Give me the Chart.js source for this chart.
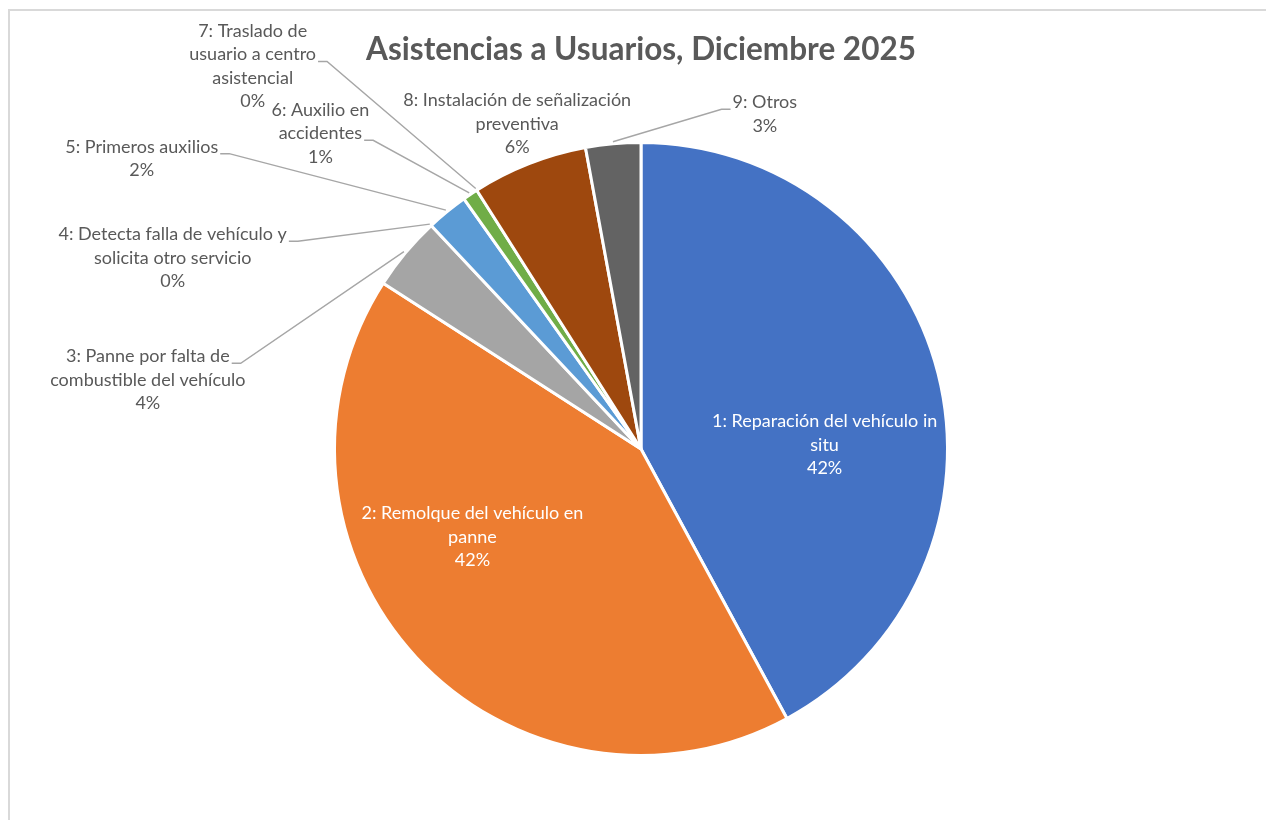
<!DOCTYPE html>
<html>
<head>
<meta charset="utf-8">
<title>Asistencias a Usuarios</title>
<script src="https://cdn.jsdelivr.net/npm/chart.js@4.4.1/dist/chart.umd.min.js"></script>
<style>
  html, body { margin: 0; padding: 0; background: #fff; overflow: hidden; }
  #wrap { position: relative; width: 1266px; height: 820px; }
  #frame { position: absolute; left: 8px; top: 9px; width: 1300px; height: 900px;
           border: 2px solid #d9d9d9; box-sizing: border-box; }
  #pieChart { position: absolute; left: 0; top: 0; }
</style>
</head>
<body>
<div id="wrap">
  <div id="frame"></div>
  <canvas id="pieChart" width="1266" height="820"></canvas>
</div>
<script>
// datos (% del total)
const categories = [
  "1: Reparación del vehículo in\nsitu",
  "2: Remolque del vehículo en\npanne",
  "3: Panne por falta de\ncombustible del vehículo",
  "4: Detecta falla de vehículo y\nsolicita otro servicio",
  "5: Primeros auxilios",
  "6: Auxilio en\naccidentes",
  "7: Traslado de\nusuario a centro\nasistencial",
  "8: Instalación de señalización\npreventiva",
  "9: Otros"
];
const values = [42.1, 42.0, 3.9, 0, 2.2, 0.8, 0, 6.1, 2.9];
const colors = ["#4472C4", "#ED7D31", "#A5A5A5", "#FFC000", "#5B9BD5", "#70AD47", "#264478", "#9E480E", "#636363"];

// posicion de las etiquetas (en radios desde el centro) y linea guia
const labelLayout = [
  { x: 0.599, y: -0.014, color: "#fff" },
  { x: -0.550, y: 0.287, color: "#fff" },
  { x: -1.609, y: -0.226, lead: { line: 0, side: "right" } },
  { x: -1.528, y: -0.624, lead: { line: 0, side: "right" } },
  { x: -1.629, y: -0.948, lead: { line: 0, side: "right" } },
  { x: -1.046, y: -1.030, lead: { line: 1, side: "right" } },
  { x: -1.267, y: -1.249, lead: { line: 1, side: "right" } },
  { x: -0.404, y: -1.061 },
  { x: 0.404, y: -1.093, lead: { line: 0, side: "left" } }
];

const FONT = "Lato, 'Open Sans', sans-serif";

const sliceLabels = {
  id: "sliceLabels",
  afterDatasetsDraw(chart) {
    const ctx = chart.ctx;
    const meta = chart.getDatasetMeta(0);
    const total = values.reduce((s, v) => s + v, 0);
    const lh = 23.5;
    ctx.save();
    ctx.font = "18px " + FONT;
    ctx.textAlign = "center";
    ctx.textBaseline = "middle";
    meta.data.forEach((arc, i) => {
      const lay = labelLayout[i];
      const r = arc.outerRadius;
      const bx = arc.x + lay.x * r;
      const by = arc.y + lay.y * r;
      const lines = categories[i].split("\n");
      lines.push(Math.round(values[i] / total * 100) + "%");
      const n = lines.length;
      const ys = lines.map((_, k) => by + (k - (n - 1) / 2) * lh);

      ctx.fillStyle = lay.color || "#595959";
      lines.forEach((t, k) => ctx.fillText(t, bx, ys[k]));

      if (lay.lead) {
        const w = ctx.measureText(lines[lay.lead.line]).width;
        const y = ys[lay.lead.line] + 7;
        const dir = lay.lead.side === "right" ? 1 : -1;
        const x0 = bx + dir * (w / 2 + 2);
        const x1 = x0 + dir * 9;
        const a = (arc.startAngle + arc.endAngle) / 2;
        const px = arc.x + Math.cos(a) * (r + 2);
        const py = arc.y + Math.sin(a) * (r + 2);
        ctx.strokeStyle = "#a6a6a6";
        ctx.lineWidth = 1.4;
        ctx.beginPath();
        ctx.moveTo(x0, y);
        ctx.lineTo(x1, y);
        ctx.lineTo(px, py);
        ctx.stroke();
      }
    });
    ctx.restore();
  }
};

const ctx = document.getElementById("pieChart").getContext("2d");
new Chart(ctx, {
  type: "pie",
  data: {
    labels: categories,
    datasets: [{
      data: values,
      backgroundColor: colors,
      borderColor: "#ffffff",
      borderWidth: 3
    }]
  },
  options: {
    responsive: false,
    animation: false,
    layout: { padding: { top: 10, bottom: 62.5, left: 333, right: 317 } },
    plugins: {
      legend: { display: false },
      tooltip: { enabled: false },
      title: {
        display: true,
        text: "Asistencias a Usuarios, Diciembre 2025",
        color: "#595959",
        font: { family: FONT, size: 31.5, weight: "bold", lineHeight: 1.2 },
        padding: { top: 21, bottom: 71.7 }
      }
    }
  },
  plugins: [sliceLabels]
});
</script>
</body>
</html>
